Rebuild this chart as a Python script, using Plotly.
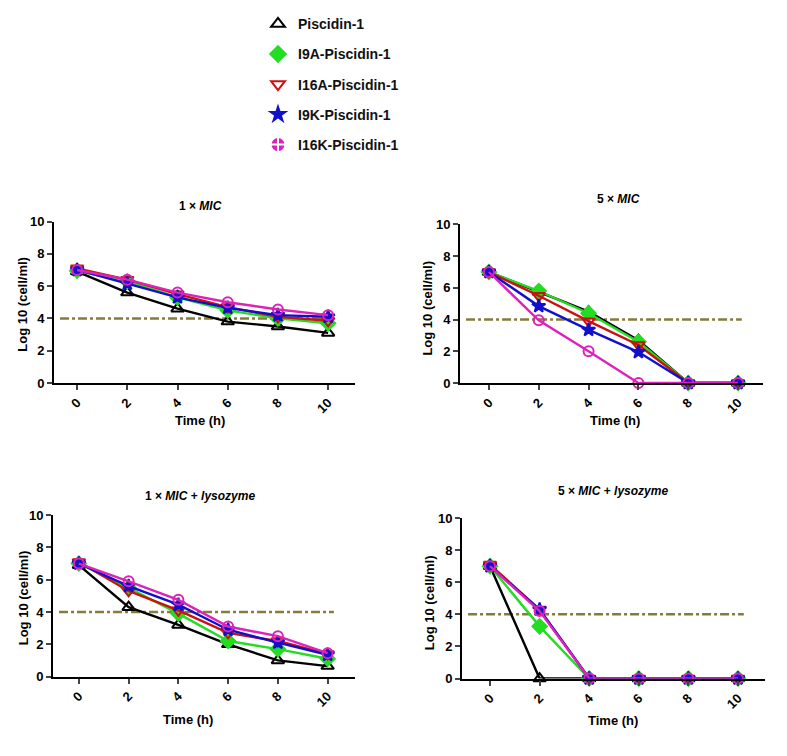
import plotly.graph_objects as go

# Time points (h)
time_h = [0, 2, 4, 6, 8, 10]
series_names = ["Piscidin-1", "I9A-Piscidin-1", "I16A-Piscidin-1", "I9K-Piscidin-1", "I16K-Piscidin-1"]
panel_titles = ["1 × <i>MIC</i>", "5 × <i>MIC</i>", "1 × <i>MIC</i> + <i>lysozyme</i>", "5 × <i>MIC</i> + <i>lysozyme</i>"]
threshold = 4.0

# log10 (cell/ml), one list per series per panel
mic1_pis = [6.9, 5.6, 4.6, 3.8, 3.5, 3.1]
mic1_i9a = [6.95, 6.3, 5.3, 4.5, 4.0, 3.7]
mic1_i16a = [7.1, 6.4, 5.5, 4.7, 4.1, 3.85]
mic1_i9k = [7.0, 6.15, 5.3, 4.65, 4.2, 4.1]
mic1_i16k = [7.0, 6.4, 5.6, 5.0, 4.55, 4.2]

mic5_pis = [7.0, 5.75, 4.5, 2.7, 0, 0]
mic5_i9a = [7.0, 5.8, 4.4, 2.6, 0, 0]
mic5_i16a = [7.0, 5.5, 3.9, 2.4, 0, 0]
mic5_i9k = [7.0, 4.85, 3.35, 1.95, 0, 0]
mic5_i16k = [7.0, 3.95, 2.0, 0, 0, 0]

mic1lys_pis = [6.9, 4.3, 3.2, 2.0, 1.0, 0.65]
mic1lys_i9a = [7.0, 5.5, 3.9, 2.2, 1.7, 1.1]
mic1lys_i16a = [7.1, 5.3, 4.1, 2.7, 2.2, 1.4]
mic1lys_i9k = [7.0, 5.6, 4.45, 2.9, 2.1, 1.35]
mic1lys_i16k = [7.0, 5.9, 4.75, 3.1, 2.5, 1.45]

mic5lys_pis = [7.0, 0, 0, 0, 0, 0]
mic5lys_i9a = [7.0, 3.25, 0, 0, 0, 0]
mic5lys_i16a = [7.1, 4.3, 0, 0, 0, 0]
mic5lys_i9k = [7.0, 4.3, 0, 0, 0, 0]
mic5lys_i16k = [7.0, 4.2, 0, 0, 0, 0]

panels = [
    [mic1_pis, mic1_i9a, mic1_i16a, mic1_i9k, mic1_i16k],
    [mic5_pis, mic5_i9a, mic5_i16a, mic5_i9k, mic5_i16k],
    [mic1lys_pis, mic1lys_i9a, mic1lys_i16a, mic1lys_i9k, mic1lys_i16k],
    [mic5lys_pis, mic5lys_i9a, mic5lys_i16a, mic5lys_i9k, mic5lys_i16k],
]

COLORS = ["#000000", "#22dd22", "#cc1111", "#1010cc", "#dd22bb"]
SYMBOLS = ["triangle-up-open", "diamond", "triangle-down-open", "star", "circle-open"]
LEGEND_SYMBOLS = ["triangle-up-open", "diamond", "triangle-down-open", "star", "circle-cross"]
MARKER_SIZES = [11, 11, 11, 10, 10]
LEGEND_SIZES = [12, 12, 12, 11, 15]
THRESH_COLOR = "#867b3c"
FONT = "Liberation Sans, Arial, sans-serif"

# page body has an 8px margin, so the figure is a bit smaller and all
# positions below are given in window pixels and shifted
OFF = 8
W, H = 787 - OFF, 756 - OFF


def px(x):
    return (x - OFF) / W


def py(y):
    return 1 - (y - OFF) / H


# plot areas in window pixels: left, right, top (y=10), bottom (y=0)
BOXES = [(54, 355, 218, 383), (460, 763, 221, 383), (53, 355, 518, 683), (462, 765, 521, 685)]
XRANGES = [(-0.92, 11.07), (-1.16, 11.0), (-1.04, 11.1), (-1.13, 11.09)]
TITLE_POS = [(200, 202), (618, 195), (200, 498), (613, 493)]
XTITLE_POS = [(200, 421), (615, 421), (188, 727), (613, 728)]
YTITLE_POS = [(23, 303), (428, 307), (23, 603), (429, 608)]


def label(text, x, y, size=13, angle=0):
    fig.add_annotation(text=text, xref="paper", yref="paper", x=px(x), y=py(y),
                       xanchor="center", yanchor="middle", showarrow=False, textangle=angle,
                       font=dict(family=FONT, size=size, color="black"))


fig = go.Figure()

for p, data in enumerate(panels):
    sfx = "" if p == 0 else str(p + 1)
    for i, ys in enumerate(data):
        fig.add_trace(go.Scatter(
            x=time_h, y=ys, mode="lines+markers",
            name=series_names[i],
            legendgroup=series_names[i],
            showlegend=False,
            xaxis="x" + sfx, yaxis="y" + sfx,
            cliponaxis=False,
            line=dict(color=COLORS[i], width=2.4),
            marker=dict(symbol=SYMBOLS[i], size=MARKER_SIZES[i], color=COLORS[i],
                        line=dict(color=COLORS[i], width=2)),
        ))
    l, r, t, b = BOXES[p]
    fig.update_layout(**{
        "xaxis" + sfx: dict(
            domain=[px(l), px(r)], range=list(XRANGES[p]), anchor="y" + sfx,
            tickvals=time_h, tickangle=-45, ticks="outside", ticklen=5, tickwidth=2,
            showline=True, linecolor="black", linewidth=2, showgrid=False, zeroline=False,
            tickfont=dict(family=FONT, size=13, color="black", weight="bold"),
        ),
        "yaxis" + sfx: dict(
            domain=[py(b), py(t)], range=[0, 10], anchor="x" + sfx,
            tickvals=[0, 2, 4, 6, 8, 10], ticks="outside", ticklen=5, tickwidth=2,
            showline=True, linecolor="black", linewidth=2, showgrid=False, zeroline=False,
            tickfont=dict(family=FONT, size=13, color="black", weight="bold"),
        ),
    })
    # kill threshold reference line
    fig.add_shape(type="line", xref="x" + sfx + " domain", yref="y" + sfx,
                  x0=0.02, x1=0.93, y0=threshold, y1=threshold,
                  line=dict(color=THRESH_COLOR, width=2.5, dash="dashdot"), layer="below")
    label("<b>" + panel_titles[p] + "</b>", *TITLE_POS[p], size=12)
    label("<b>Time (h)</b>", *XTITLE_POS[p])
    label("<b>Log 10 (cell/ml)</b>", *YTITLE_POS[p], angle=-90)

# legend entries (dummy traces that only carry the legend symbols)
for i, name in enumerate(series_names):
    fig.add_trace(go.Scatter(
        x=[None], y=[None], mode="lines+markers", name="<b>" + name + "</b>",
        legendgroup=name, showlegend=True,
        line=dict(color="rgba(0,0,0,0)", width=0),
        marker=dict(symbol=LEGEND_SYMBOLS[i], size=LEGEND_SIZES[i], color=COLORS[i],
                    line=dict(color=COLORS[i] if i != 4 else "white", width=2)),
    ))

fig.update_layout(
    width=W, height=H,
    margin=dict(l=0, r=0, t=0, b=0),
    paper_bgcolor="white", plot_bgcolor="white",
    font=dict(family=FONT, color="black"),
    showlegend=True,
    legend=dict(x=px(258), y=py(0), xanchor="left", yanchor="top",
                tracegroupgap=9, font=dict(family=FONT, size=14, color="#111"),
                bgcolor="rgba(0,0,0,0)"),
)

fig.write_html("out.html")
